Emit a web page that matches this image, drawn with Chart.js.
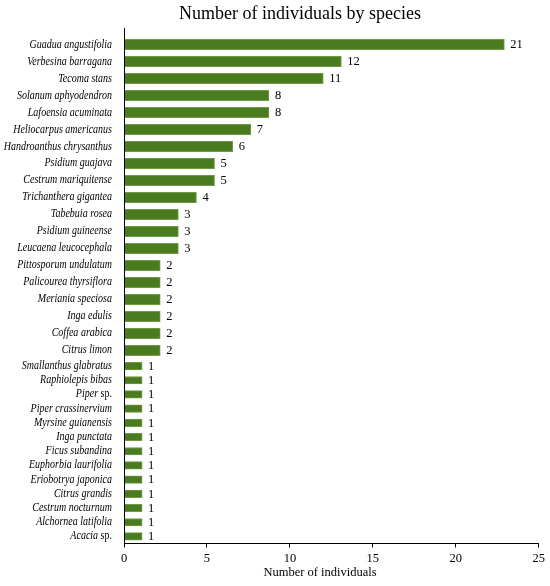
<!DOCTYPE html>
<html lang="en">
<head>
<meta charset="utf-8" />
<title>Number of individuals by species</title>
<style>
  html, body { margin: 0; padding: 0; background: #fff; }
  #chart { display: block; }
</style>
</head>
<body>
<canvas id="chart" width="550" height="586"></canvas>
<script src="https://cdn.jsdelivr.net/npm/chart.js"></script>
<script>
const species = [
    'Guadua angustifolia', 'Verbesina barragana', 'Tecoma stans', 'Solanum aphyodendron',
    'Lafoensia acuminata', 'Heliocarpus americanus', 'Handroanthus chrysanthus', 'Psidium guajava',
    'Cestrum mariquitense', 'Trichanthera gigantea', 'Tabebuia rosea', 'Psidium guineense',
    'Leucaena leucocephala', 'Pittosporum undulatum', 'Palicourea thyrsiflora', 'Meriania speciosa',
    'Inga edulis', 'Coffea arabica', 'Citrus limon', 'Smallanthus glabratus', 'Raphiolepis bibas',
    'Piper sp.', 'Piper crassinervium', 'Myrsine guianensis', 'Inga punctata', 'Ficus subandina',
    'Euphorbia laurifolia', 'Eriobotrya japonica', 'Citrus grandis', 'Cestrum nocturnum',
    'Alchornea latifolia', 'Acacia sp.'
];
const counts = [21, 12, 11, 8, 8, 7, 6, 5, 5, 4, 3, 3, 3, 2, 2, 2, 2, 2, 2,
    1, 1, 1, 1, 1, 1, 1, 1, 1, 1, 1, 1, 1];
const xTicks = [0, 5, 10, 15, 20, 25];

// the reference packs the singletons tighter than the rest, so two stacked category axes
const splitAt = counts.indexOf(1);
const topSpecies = species.slice(0, splitAt);
const topCounts = counts.slice(0, splitAt);
const singleSpecies = species.slice(splitAt);
const singleCounts = counts.slice(splitAt);

const serif = '"Liberation Serif", "DejaVu Serif", serif';
const barColor = '#4b7b1f';
const barEdge = '#6f9a48';
const squeeze = 0.87; // species names are a little condensed in the reference

const labelsPlugin = {
    id: 'speciesLabels',
    afterDraw(chart) {
        const ctx = chart.ctx;
        const area = chart.chartArea;
        ctx.save();
        ctx.fillStyle = '#000';

        ctx.font = '18px ' + serif;
        ctx.textAlign = 'center';
        ctx.textBaseline = 'alphabetic';
        ctx.fillText('Number of individuals by species', 300, 18.5);

        ctx.font = '12.5px ' + serif;
        ctx.textBaseline = 'middle';
        ctx.fillText('Number of individuals', 320, 573);

        ctx.strokeStyle = '#000';
        ctx.lineWidth = 1;
        ctx.beginPath();
        ctx.moveTo(area.left + 0.5, area.top - 8);
        ctx.lineTo(area.left + 0.5, area.bottom);
        ctx.stroke();

        // species names in italics, "sp." upright
        ctx.textAlign = 'right';
        const right = area.left - 12;
        [['y1', topSpecies], ['y2', singleSpecies]].forEach(([id, names]) => {
            const scale = chart.scales[id];
            names.forEach((name, i) => {
                const y = scale.getPixelForValue(i);
                let ital = name, plain = '';
                if (name.endsWith(' sp.')) {
                    ital = name.slice(0, -4);
                    plain = ' sp.';
                }
                ctx.save();
                ctx.translate(right, y);
                ctx.scale(squeeze, 1);
                ctx.font = '11.5px ' + serif;
                const plainW = ctx.measureText(plain).width;
                if (plain) ctx.fillText(plain, 0, 0);
                ctx.font = 'italic 11.5px ' + serif;
                ctx.fillText(ital, -plainW, 0);
                ctx.restore();
            });
        });

        ctx.textAlign = 'left';
        ctx.font = '12.5px ' + serif;
        chart.data.datasets.forEach((ds, di) => {
            chart.getDatasetMeta(di).data.forEach((bar, i) => {
                ctx.fillText(String(ds.data[i]), bar.x + 6, bar.y + 0.5);
            });
        });
        ctx.restore();
    }
};

const hiddenY = {
    type: 'category',
    position: 'left',
    stack: 'species',
    offset: true,
    ticks: { display: false },
    grid: { display: false },
    border: { display: false },
    afterFit: s => { s.width = 0; }
};

new Chart(document.getElementById('chart'), {
    type: 'bar',
    data: {
        datasets: [
            {
                data: topCounts, yAxisID: 'y1', xAxisID: 'x', grouped: false,
                backgroundColor: barColor, borderColor: barEdge, borderWidth: 1,
                barThickness: 10.5
            },
            {
                data: singleCounts, yAxisID: 'y2', xAxisID: 'x', grouped: false,
                backgroundColor: barColor, borderColor: barEdge, borderWidth: 1,
                barThickness: 7.5
            }
        ]
    },
    options: {
        indexAxis: 'y',
        responsive: false,
        animation: false,
        devicePixelRatio: 1,
        layout: { padding: { left: 124, top: 36, right: 9, bottom: 16 } },
        plugins: {
            legend: { display: false },
            tooltip: { enabled: false }
        },
        scales: {
            x: { display: false, min: 0, max: 22.9 },
            x2: {
                type: 'linear',
                position: 'bottom',
                min: xTicks[0],
                max: xTicks[xTicks.length - 1],
                ticks: {
                    stepSize: xTicks[1] - xTicks[0],
                    color: '#000',
                    padding: 5,
                    font: { family: serif, size: 12.5, lineHeight: 1 }
                },
                grid: { drawOnChartArea: false, tickLength: 4, color: '#000' },
                border: { color: '#000', width: 1 }
            },
            // left boxes are laid out in reverse order, so the singleton axis goes first
            y2: Object.assign({}, hiddenY, { labels: singleSpecies, stackWeight: 184 }),
            y1: Object.assign({}, hiddenY, { labels: topSpecies, stackWeight: 322 })
        }
    },
    plugins: [labelsPlugin]
});
</script>
</body>
</html>
